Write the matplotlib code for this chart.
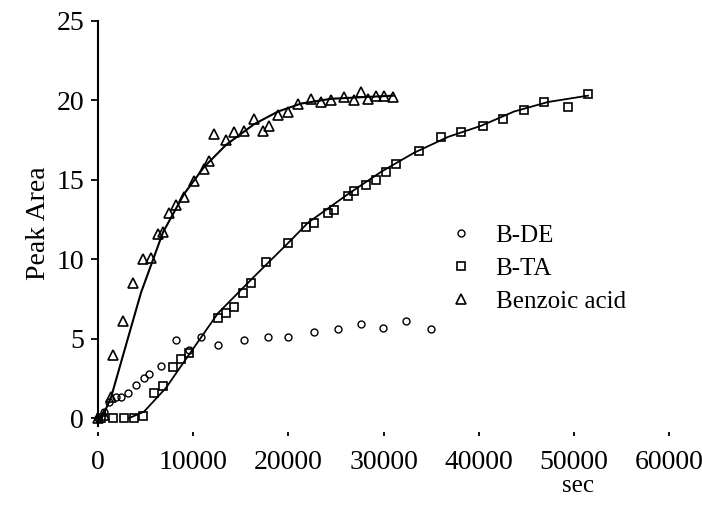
import numpy as np
import matplotlib
matplotlib.use('Agg')
import matplotlib.pyplot as plt

plt.rcParams['font.family'] = ['Liberation Serif', 'DejaVu Serif']

# B-DE (circles)
bde_t = [0, 630, 1160, 1890, 2420, 3150, 3990, 4830, 5360, 6620, 8190, 9560,
         10820, 12600, 15340, 17860, 19960, 22690, 25210, 27630, 29940, 32350, 34980]
bde_y = [0, 0.4, 1.0, 1.3, 1.3, 1.6, 2.1, 2.5, 2.8, 3.3, 4.9, 4.3,
         5.1, 4.6, 4.9, 5.1, 5.1, 5.4, 5.6, 5.9, 5.7, 6.1, 5.6]

# B-TA (squares)
bta_t = [320, 1580, 2730, 3780, 4730, 5880, 6830, 7880, 8720, 9560, 12600, 13450,
         14290, 15230, 16070, 17650, 19960, 21850, 22690, 24160, 24790, 26260, 26890,
         28150, 29200, 30250, 31300, 33720, 36030, 38130, 40440, 42540, 44750, 46850,
         49370, 51470]
bta_y = [0, 0, 0, 0, 0.1, 1.6, 2.0, 3.2, 3.7, 4.1, 6.3, 6.6,
         7.0, 7.9, 8.5, 9.8, 11.0, 12.0, 12.3, 12.9, 13.1, 14.0, 14.3,
         14.7, 15.0, 15.5, 16.0, 16.8, 17.7, 18.0, 18.4, 18.8, 19.4, 19.9,
         19.6, 20.4]
# fitted curve
bta_fit_t = [3260, 4830, 7140, 9450, 12600, 16390, 20270, 22060, 26260, 29730,
             33190, 36760, 40230, 43700, 47270, 51470]
bta_fit_y = [0, 0.4, 1.9, 3.9, 6.6, 8.9, 11.2, 12.3, 14.1, 15.5,
             16.7, 17.7, 18.4, 19.3, 19.9, 20.3]

# Benzoic acid (triangles)
ben_t = [0, 630, 1370, 1580, 2630, 3680, 4730, 5570, 6300, 6830, 7460, 8190,
         9030, 10080, 11130, 11660, 12190, 13450, 14290, 15340, 16390, 17330,
         17960, 18910, 19960, 21010, 22370, 23420, 24480, 25840, 26890, 27630,
         28360, 29200, 30040, 30990]
ben_y = [0, 0.2, 1.3, 4.0, 6.1, 8.5, 10.0, 10.1, 11.6, 11.7, 12.9, 13.4,
         13.9, 14.9, 15.7, 16.2, 17.9, 17.5, 18.0, 18.1, 18.8, 18.1,
         18.4, 19.1, 19.3, 19.8, 20.1, 19.9, 20.0, 20.2, 20.0, 20.5,
         20.1, 20.3, 20.3, 20.2]
ben_fit_t = [400, 1370, 2940, 4520, 6830, 9030, 11130, 13450, 16390, 18910,
             21320, 24470, 27620, 31090]
ben_fit_y = [0, 1.3, 4.6, 7.9, 11.7, 14.1, 15.8, 17.2, 18.5, 19.3,
             19.8, 20.1, 20.2, 20.3]

xticks = [0, 10000, 20000, 30000, 40000, 50000, 60000]
yticks = [0, 5, 10, 15, 20, 25]

fig = plt.figure(figsize=(7.02, 5.2), dpi=100)
ax = fig.add_axes([98/702, 1-426/520, 602/702, 405/520])

ax.plot(bde_t, bde_y, 'o', mfc='none', mec='black', ms=5, mew=1.0, label='B-DE', clip_on=False)
ax.plot(bta_t, bta_y, 's', mfc='none', mec='black', ms=6, mew=1.2, label='B-TA', clip_on=False)
ax.plot(ben_t, ben_y, '^', mfc='none', mec='black', ms=7, mew=1.2, label='Benzoic acid', clip_on=False)
ax.plot(bta_fit_t, bta_fit_y, '-', color='black', lw=1.3)
ax.plot(ben_fit_t, ben_fit_y, '-', color='black', lw=1.5)

ax.set_xlim(0, 63235)
ax.set_ylim(-0.5, 25)
ax.set_xticks(xticks)
ax.set_yticks(yticks)
ax.set_xticklabels([str(v) for v in xticks])

for s in ['top', 'right']:
    ax.spines[s].set_visible(False)
ax.spines['bottom'].set_position(('outward', 4))
ax.spines['bottom'].set_visible(False)
ax.spines['left'].set_linewidth(1.5)

ax.tick_params(axis='y', direction='out', length=5, width=1.3, pad=5, labelsize=20)
ax.tick_params(axis='x', direction='out', length=3, width=1.3, pad=10, labelsize=20)

ax.set_ylabel('Peak Area', fontsize=20, labelpad=4)
fig.text(578/702, 1-486/520, 'sec', fontsize=18, ha='center', va='center')

leg = ax.legend(loc='upper left', bbox_to_anchor=(448/702, 1-224/520),
                bbox_transform=fig.transFigure, frameon=False, fontsize=18,
                handlelength=1.0, handletextpad=0.9, labelspacing=0.43,
                borderpad=0, borderaxespad=0, numpoints=1)

fig.savefig('out.png', dpi=100)
